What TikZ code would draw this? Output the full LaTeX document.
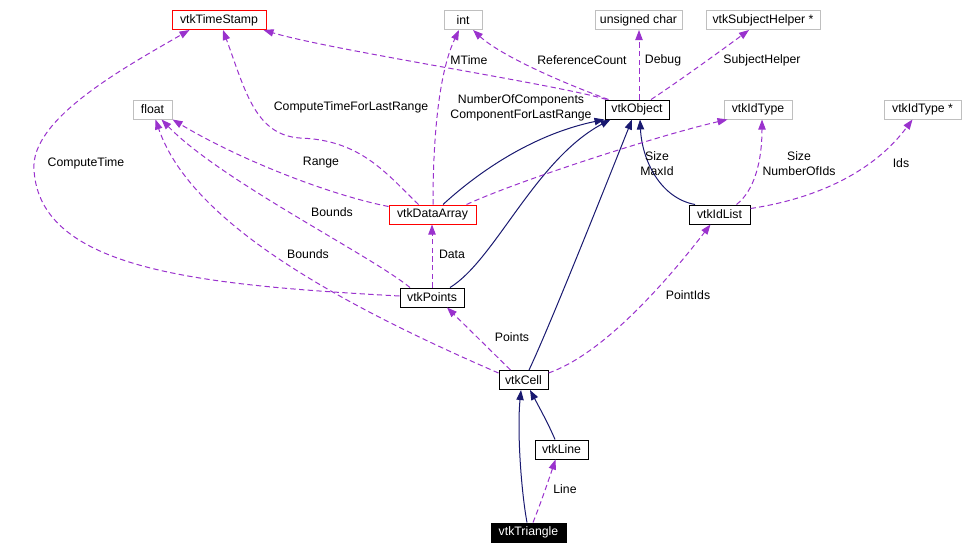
\documentclass[tikz,border=0pt]{standalone}
\usepackage{fontspec}
\setmainfont{Liberation Sans}
\usetikzlibrary{arrows.meta, calc}
\definecolor{inherit}{HTML}{191970}
\definecolor{usage}{HTML}{9A32CD}
\definecolor{truncated}{HTML}{FF0000}
\definecolor{builtin}{HTML}{BFBFBF}

\begin{document}
\begin{tikzpicture}[
    x=0.75pt, y=-0.75pt,
    >={Triangle[length=7.5pt, width=5.5pt]},
    box/.style={draw, line width=0.75pt, inner sep=0pt, minimum height=14.25pt,
                font=\fontsize{9.2}{11}\selectfont},
    cls/.style={box, draw=black},
    part/.style={box, draw=truncated},
    prim/.style={box, draw=builtin},
    self/.style={box, draw=black, fill=black, text=white},
    lbl/.style={font=\fontsize{9.2}{11.25}\selectfont, align=center, inner sep=0pt},
    isa/.style={->, draw=inherit, line width=0.75pt},
    uses/.style={->, draw=usage, line width=0.75pt, dash pattern=on 4pt off 2.5pt},
]
\useasboundingbox (0,0) rectangle (969,554);

% classes and types
\node[part, minimum width=70.5pt]  (ts)   at (219,20)     {vtkTimeStamp};
\node[prim, minimum width=28.5pt]  (int)  at (463,20)     {int};
\node[prim, minimum width=65.25pt] (uc)   at (638.5,20)   {unsigned char};
\node[prim, minimum width=85.5pt]  (sh)   at (763,20)     {vtkSubjectHelper *};
\node[prim, minimum width=29.25pt] (flt)  at (152.5,109.5) {float};
\node[cls,  minimum width=48pt]    (obj)  at (637,109.5)  {vtkObject};
\node[prim, minimum width=51pt]    (idt)  at (758,109.5)  {vtkIdType};
\node[prim, minimum width=57.75pt] (idp)  at (922.5,109.5) {vtkIdType *};
\node[part, minimum width=65.25pt] (da)   at (432.5,214.5) {vtkDataArray};
\node[cls,  minimum width=45.75pt] (idl)  at (719.5,214.5) {vtkIdList};
\node[cls,  minimum width=48pt]    (pts)  at (432,297.5)  {vtkPoints};
\node[cls,  minimum width=36.75pt] (cell) at (523.5,380)  {vtkCell};
\node[cls,  minimum width=39.75pt] (line) at (561.5,449.5) {vtkLine};
\node[self, minimum width=56.25pt] (tri)  at (528.5,532.5) {vtkTriangle};

% inheritance
\draw[isa] ($(da.north)+(10.5,0)$) .. controls (475,175) and (530,135) .. (obj.south west);
\draw[isa] ($(pts.north)+(18,0)$) .. controls (495,260) and (535,160) .. ($(obj.south west)+(6,0)$);
\draw[isa] ($(cell.north)+(5.5,0)$) .. controls (548,330) and (600,200) .. ($(obj.south)+(-5,0)$);
\draw[isa] ($(idl.north)+(-24.5,0)$) .. controls (660,198) and (642,160) .. ($(obj.south)+(3,0)$);
\draw[isa] ($(line.north)+(-6.5,0)$) .. controls (549,425) and (538,405) .. ($(cell.south)+(6.5,0)$);
\draw[isa] ($(tri.north)+(-1.5,0)$) .. controls (521,490) and (517,430) .. ($(cell.south)+(-2.5,0)$);

% members
\draw[uses] ($(obj.north west)+(2,0)$) .. controls (560,85) and (330,50) .. ($(ts.south east)+(-3,0)$);
\draw[uses] ($(obj.north west)+(4,0)$) .. controls (560,82) and (500,55) .. ($(int.south)+(10,0)$);
\draw[uses] ($(obj.north)+(2,0)$) -- ($(uc.south)+(0.5,0)$);
\draw[uses] ($(obj.north)+(14,0)$) .. controls (672,86) and (722,50) .. ($(sh.south)+(-14,0)$);
\draw[uses] ($(da.north)+(-14,0)$) .. controls (385,172) and (360,140) .. (300,138)
    .. controls (255,135) and (245,90) .. ($(ts.south)+(4,0)$);
\draw[uses] ($(da.north)+(0.5,0)$) .. controls (433,130) and (440,70) .. ($(int.south)+(-4,0)$);
\draw[uses] ($(da.north west)+(0,2)$) .. controls (330,195) and (240,160) .. (flt.south east);
\draw[uses] ($(da.north east)+(-10,0)$) .. controls (520,180) and (660,135) .. ($(idt.south west)+(4,0)$);
\draw[uses] ($(pts.west)+(0,-1.5)$) .. controls (200,285) and (40,270) .. (34,170)
    .. controls (30,120) and (120,70) .. ($(ts.south west)+(18,0)$);
\draw[uses] ($(pts.north)+(-22,0)$) .. controls (370,255) and (220,180) .. ($(flt.south)+(9,0)$);
\draw[uses] (pts.north) -- (pts.north |- da.south);
\draw[uses] ($(cell.north)+(-13,0)$) -- ($(pts.south)+(15,0)$);
\draw[uses] ($(cell.north west)+(0,3)$) .. controls (330,300) and (190,220) .. ($(flt.south)+(3,0)$);
\draw[uses] ($(cell.north east)+(0,3)$) .. controls (600,355) and (660,290) .. ($(idl.south)+(-9,0)$);
\draw[uses] ($(idl.north)+(17,0)$) .. controls (755,190) and (762,160) .. ($(idt.south)+(4,0)$);
\draw[uses] ($(idl.east)+(0,-6)$) .. controls (820,198) and (875,170) .. ($(idp.south)+(-10,0)$);
\draw[uses] ($(tri.north)+(4.5,0)$) .. controls (540,505) and (548,482) .. ($(line.south)+(-6,0)$);

% member names
\node[lbl] (l-ct)   at (86,163)  {ComputeTime};
\node[lbl] (l-ctlr) at (351,107) {ComputeTimeForLastRange};
\node[lbl] (l-mt)   at (469,60)  {MTime};
\node[lbl] (l-rc)   at (582,60)  {ReferenceCount};
\node[lbl] (l-dbg)  at (663,60)  {Debug};
\node[lbl] (l-sh)   at (762,60)  {SubjectHelper};
\node[lbl] (l-nc)   at (521,107.5) {NumberOfComponents\\ComponentForLastRange};
\node[lbl] (l-rng)  at (321,163) {Range};
\node[lbl] (l-bd1)  at (332,212) {Bounds};
\node[lbl] (l-bd2)  at (308,254) {Bounds};
\node[lbl] (l-data) at (452,254) {Data};
\node[lbl] (l-mx)   at (657,163.5) {Size\\MaxId};
\node[lbl] (l-noi)  at (799,163.5) {Size\\NumberOfIds};
\node[lbl] (l-ids)  at (901,163) {Ids};
\node[lbl] (l-pid)  at (688,295) {PointIds};
\node[lbl] (l-pts)  at (512,337) {Points};
\node[lbl] (l-line) at (565,489) {Line};

\end{tikzpicture}
\end{document}
